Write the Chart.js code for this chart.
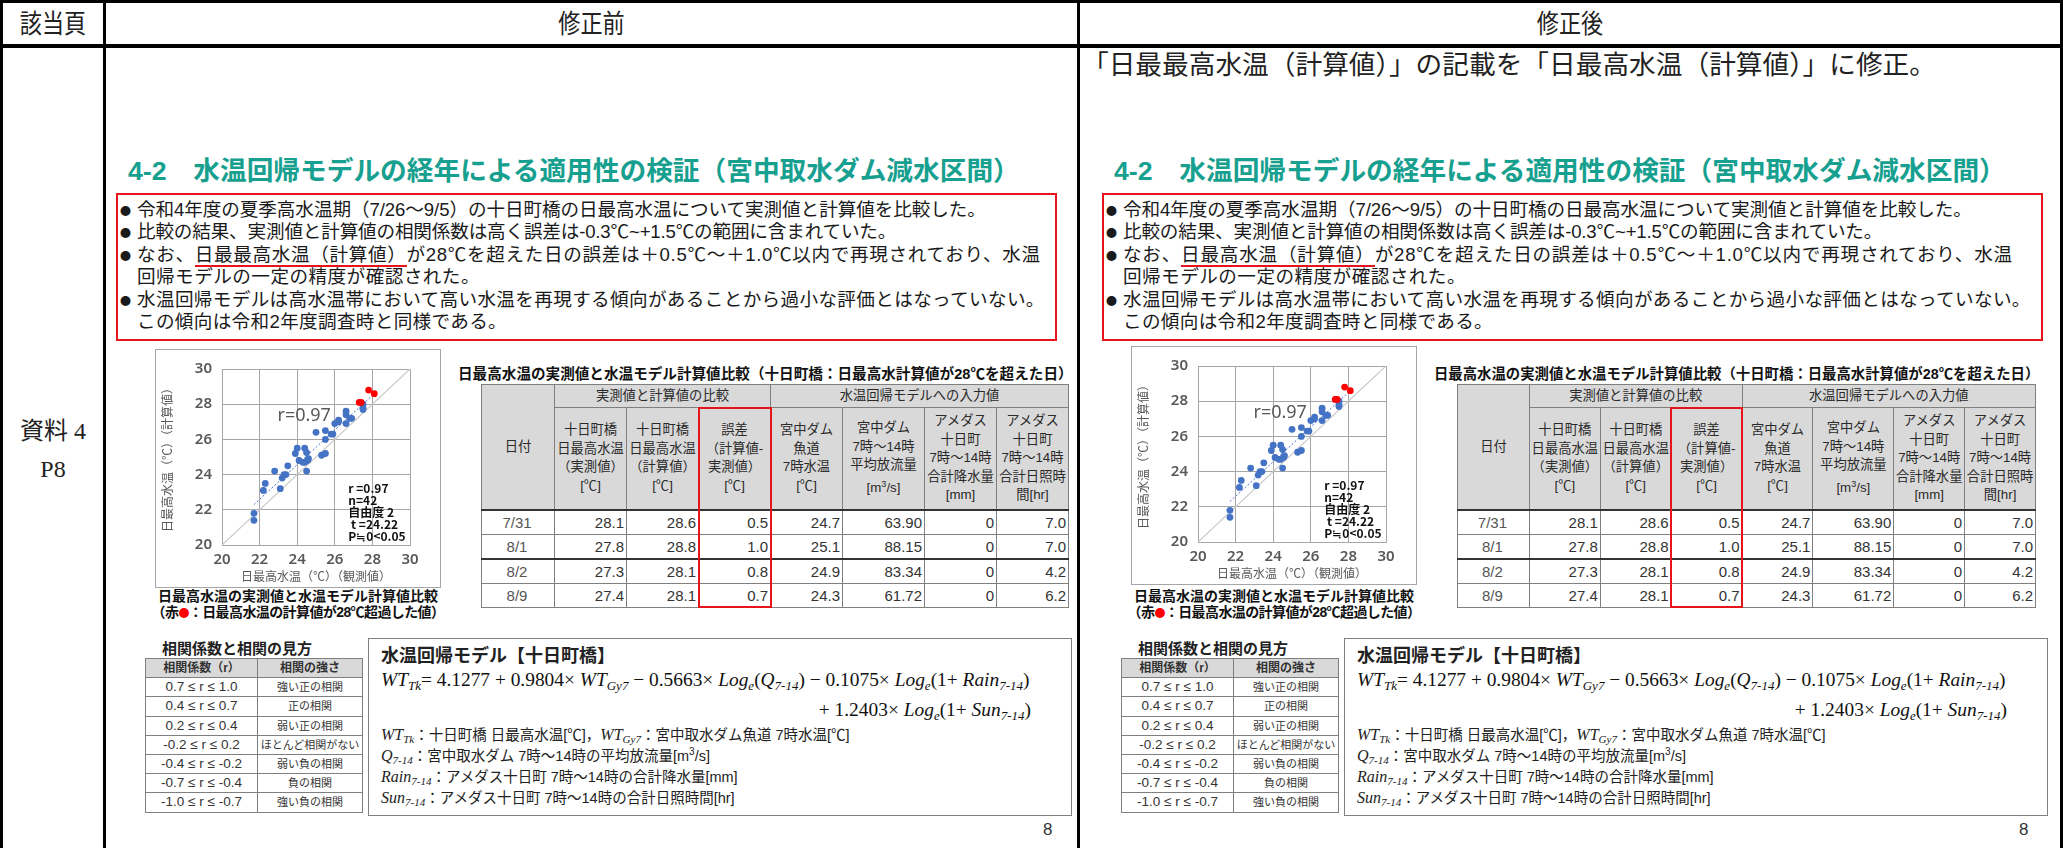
<!DOCTYPE html>
<html lang="ja">
<head>
<meta charset="utf-8">
<script src="https://cdn.jsdelivr.net/npm/chart.js@4"></script>
<style>
body { margin:0; width:2063px; height:848px; background:#fff; position:relative; overflow:hidden; font-family:"Liberation Sans", "Noto Sans CJK JP", sans-serif; color:#222; }
.abs { position:absolute; }
.line { position:absolute; background:#000; }
.hdr { position:absolute; top:4px; height:40px; line-height:40px; font-size:26px; text-align:center; transform:scaleX(0.85); }
.title { font-size:26.7px; font-weight:bold; color:#17a08f; white-space:nowrap; line-height:32px; }
.redbox { border:2px solid #e8141b; }
.bul { position:absolute; left:120px; top:199px; font-size:18.6px; line-height:22.4px; color:#1a1a1a; white-space:nowrap; }
.bul div { position:relative; padding-left:17px; }
.bul .dot { position:absolute; left:0; top:3px; font-family:"Noto Sans CJK JP", sans-serif; font-size:11px; line-height:16px; height:16px; }
.bul .ln { display:inline-block; height:22.4px; line-height:22.4px; vertical-align:top; }
.chartbox { border:1px solid #a6a6a6; background:#fff; }
.cap { font-weight:bold; font-size:14px; line-height:16px; text-align:center; color:#111; white-space:nowrap; }
.cap .red { color:#f00; font-family:"Noto Sans CJK JP", sans-serif; font-size:11px; }
table { border-collapse:collapse; table-layout:fixed; }
.t1 th { background:#d9d9d9; font-weight:normal; font-size:13.3px; line-height:18.5px; color:#2a2a2a; border:1px solid #7f7f7f; padding:0; white-space:nowrap; }
.t1 td { border:1px solid #7f7f7f; font-size:15px; color:#333; text-align:right; padding:0 2px 0 0; height:23px; }
.t1 td.d { text-align:center; color:#555; }
.t2 tr { height:19.2px; }
.t2 th { background:#d9d9d9; font-size:12px; line-height:16px; font-weight:600; color:#333; border:1px solid #7f7f7f; padding:0; }
.t2 td { border:1px solid #7f7f7f; font-size:11px; line-height:16px; color:#333; text-align:center; padding:0; }
.model { border:1px solid #808080; background:#fff; }
.eq { font-family:"Liberation Serif", serif; font-size:19.4px; color:#111; white-space:nowrap; }
.eq i { font-style:italic; }
.eq sub { font-size:13px; vertical-align:-4px; line-height:0; }
.def { font-size:14.5px; color:#222; white-space:nowrap; }
.def div { height:21px; line-height:21px; }
.def i { font-family:"Liberation Serif", serif; font-size:16px; line-height:0; }
.def sub { font-family:"Liberation Serif", serif; font-style:italic; font-size:11px; vertical-align:-3px; line-height:0; }
</style>
</head>
<body>
<div id="page"></div>
<script>
// scatter data (observed vs calculated daily max water temp)
const obsBlue = [27.5, 27.5, 27.5, 26.6, 26.6, 26.8, 26.9, 26.6, 26.2, 26.2, 26.0, 25.9, 25.8, 25.5, 25.5, 25.0,
                 24.0, 23.9, 24.4, 24.5, 24.1, 24.3, 24.4, 24.55, 24.6, 24.5, 25.3, 25.5, 23.5, 23.3, 23.4, 23.2,
                 22.8, 23.1, 22.3, 22.2, 21.7, 21.7];
const calcBlue = [28.0, 27.8, 27.7, 27.6, 27.4, 27.2, 27.2, 26.9, 27.1, 27.0, 26.9, 26.3, 26.3, 26.5, 26.0, 26.4,
                  25.5, 25.2, 25.5, 25.25, 24.8, 24.7, 24.7, 24.8, 24.9, 24.2, 25.1, 25.2, 24.5, 24.0, 24.0, 23.8,
                  24.2, 23.2, 23.5, 23.1, 21.8, 21.4];
const diagX = [20, 30];
const diagY = [20, 30];
const trendX = [21.7, 28.1];
const trendY = [22.3, 28.6];
const axisTicks = [20, 22, 24, 26, 28, 30];
const statLines = ['r =0.97', 'n=42', '自由度 2', ' t =24.22', 'P≒0<0.05'];

// days where calculated value exceeded 28℃
const dates = ['7/31', '8/1', '8/2', '8/9'];
const obsMax = [28.1, 27.8, 27.3, 27.4];
const calcMax = [28.6, 28.8, 28.1, 28.1];
const errs = [0.5, 1.0, 0.8, 0.7];
const damTemp = [24.7, 25.1, 24.9, 24.3];
const discharge = [63.90, 88.15, 83.34, 61.72];
const rain = [0, 0, 0, 0];
const sun = [7.0, 7.0, 4.2, 6.2];

const corrRanges = ['0.7 ≤ r ≤ 1.0', '0.4 ≤ r ≤ 0.7', '0.2 ≤ r ≤ 0.4', '-0.2 ≤ r ≤ 0.2', '-0.4 ≤ r ≤ -0.2', '-0.7 ≤ r ≤ -0.4', '-1.0 ≤ r ≤ -0.7'];
const corrLabels = ['強い正の相関', '正の相関', '弱い正の相関', 'ほとんど相関がない', '弱い負の相関', '負の相関', '強い負の相関'];

function tableHTML(id, k) {
    const w = [73, 72, 72, 72, 72, 82, 72, 72].map(x => Math.round(x * k * 10) / 10);
    let h = `<table class="t1" id="${id}" style="width:${w.reduce((a,b)=>a+b,0)}px">`;
    h += '<colgroup>' + w.map(x => `<col style="width:${x}px">`).join('') + '</colgroup>';
    h += '<tr style="height:23px"><th rowspan="2">日付</th><th colspan="3">実測値と計算値の比較</th><th colspan="4">水温回帰モデルへの入力値</th></tr>';
    h += '<tr style="height:102px"><th>十日町橋<br>日最高水温<br>（実測値）<br>[℃]</th><th>十日町橋<br>日最高水温<br>（計算値）<br>[℃]</th>' +
         '<th class="errh">誤差<br>（計算値-<br>実測値）<br>[℃]</th><th>宮中ダム<br>魚道<br>7時水温<br>[℃]</th>' +
         '<th>宮中ダム<br>7時～14時<br>平均放流量<br>[m<sup style="font-size:9px">3</sup>/s]</th><th>アメダス<br>十日町<br>7時～14時<br>合計降水量<br>[mm]</th>' +
         '<th>アメダス<br>十日町<br>7時～14時<br>合計日照時<br>間[hr]</th></tr>';
    dates.forEach((d, i) => {
        const top = (i === 0 || i === 2) ? 'border-top:2px solid #333;' : '';
        h += `<tr style="${top}"><td class="d">${d}</td><td>${obsMax[i].toFixed(1)}</td><td>${calcMax[i].toFixed(1)}</td>` +
             `<td class="errc">${errs[i].toFixed(1)}</td><td>${damTemp[i].toFixed(1)}</td><td>${discharge[i].toFixed(2)}</td>` +
             `<td>${rain[i]}</td><td>${sun[i].toFixed(1)}</td></tr>`;
    });
    return h + '</table>';
}

function corrHTML() {
    let h = '<table class="t2" style="width:217px"><colgroup><col style="width:112px"><col style="width:105px"></colgroup>';
    h += '<tr><th>相関係数（r）</th><th>相関の強さ</th></tr>';
    corrRanges.forEach((r, i) => { h += `<tr><td style="font-size:13.5px">${r}</td><td>${corrLabels[i]}</td></tr>`; });
    return h + '</table>';
}

function slideHTML(s) {
    return `
    <div class="abs" style="left:${s.dxTop}px;top:0">
        <div class="abs title" style="left:128px;top:155px">4-2&emsp;水温回帰モデルの経年による適用性の検証（宮中取水ダム減水区間）</div>
        <div class="abs redbox" style="left:116px;top:193px;width:937px;height:144px"></div>
        <div class="bul">
            <div><span class="dot">●</span><span class="ln" data-w="849">令和4年度の夏季高水温期（7/26～9/5）の十日町橋の日最高水温について実測値と計算値を比較した。</span></div>
            <div><span class="dot">●</span><span class="ln" data-w="759">比較の結果、実測値と計算値の相関係数は高く誤差は-0.3℃~+1.5℃の範囲に含まれていた。</span></div>
            <div><span class="dot">●</span><span class="ln" data-w="${s.w3}">なお、<span style="border-bottom:2px solid #e8141b">${s.fixText}</span>が28℃を超えた日の誤差は＋0.5℃～＋1.0℃以内で再現されており、水温</span><br><span class="ln" data-w="343">回帰モデルの一定の精度が確認された。</span></div>
            <div><span class="dot">●</span><span class="ln" data-w="908">水温回帰モデルは高水温帯において高い水温を再現する傾向があることから過小な評価とはなっていない。</span><br><span class="ln" data-w="370">この傾向は令和2年度調査時と同様である。</span></div>
        </div>
    </div>
    <div class="abs" style="left:${s.dxBottom}px;top:0">
        <div class="abs chartbox" style="left:155px;top:${349 + s.dyChart}px;width:284px;height:237px"><canvas id="${s.id}" width="284" height="237"></canvas></div>
        <div class="abs cap" style="left:140px;top:588px;width:316px">日最高水温の実測値と水温モデル計算値比較<br><span style="letter-spacing:-0.6px">（赤<span class="red">●</span>：日最高水温の計算値が28℃超過した値）</span></div>
        <div class="abs" style="left:458px;top:362px;font-size:${14.6 * s.tw}px;font-weight:bold;white-space:nowrap;color:#111">日最高水温の実測値と水温モデル計算値比較（十日町橋：日最高水計算値が28℃を超えた日）</div>
        <div class="abs" style="left:481px;top:384px">${tableHTML(s.id + 'tbl', s.tw)}</div>
        <div class="abs redbox" id="${s.id}err" style="border-width:2px"></div>
        <div class="abs" style="left:158px;top:637px;width:158px;text-align:center;font-size:15px;font-weight:bold;white-space:nowrap">相関係数と相関の見方</div>
        <div class="abs" style="left:145px;top:658px">${corrHTML()}</div>
        <div class="abs model" style="left:368px;top:638px;width:702px;height:176px">
            <div class="abs" style="left:12px;top:2px;font-size:18px;font-weight:bold;white-space:nowrap">水温回帰モデル【十日町橋】</div>
            <div class="abs eq" style="left:12px;top:30px"><i>WT</i><sub><i>Tk</i></sub>= 4.1277 + 0.9804× <i>WT</i><sub><i>Gy7</i></sub> − 0.5663× <i>Log</i><sub><i>e</i></sub>(<i>Q</i><sub><i>7-14</i></sub>) − 0.1075× <i>Log</i><sub><i>e</i></sub>(1+ <i>Rain</i><sub><i>7-14</i></sub>)</div>
            <div class="abs eq" style="right:40px;top:60px">+ 1.2403× <i>Log</i><sub><i>e</i></sub>(1+ <i>Sun</i><sub><i>7-14</i></sub>)</div>
            <div class="abs def" style="left:12px;top:86px">
                <div><i>WT</i><sub>Tk</sub>：十日町橋 日最高水温[℃]，<i>WT</i><sub>Gy7</sub>：宮中取水ダム魚道 7時水温[℃]</div>
                <div><i>Q</i><sub>7-14</sub>：宮中取水ダム 7時～14時の平均放流量[m<sup style="font-size:10px;line-height:0">3</sup>/s]</div>
                <div><i>Rain</i><sub>7-14</sub>：アメダス十日町 7時～14時の合計降水量[mm]</div>
                <div><i>Sun</i><sub>7-14</sub>：アメダス十日町 7時～14時の合計日照時間[hr]</div>
            </div>
        </div>
        <div class="abs" style="left:1043px;top:820px;font-size:17px;color:#333">8</div>
    </div>`;
}

const page = document.getElementById('page');
page.innerHTML = `
    <div class="line" style="left:0;top:0;width:2063px;height:3px"></div>
    <div class="line" style="left:0;top:44px;width:2063px;height:4px"></div>
    <div class="line" style="left:0;top:0;width:3px;height:848px"></div>
    <div class="line" style="left:103px;top:0;width:3px;height:848px"></div>
    <div class="line" style="left:1077px;top:0;width:3px;height:848px"></div>
    <div class="line" style="left:2060px;top:0;width:3px;height:848px"></div>
    <div class="hdr" style="left:3px;width:100px">該当頁</div>
    <div class="hdr" style="left:106px;width:971px">修正前</div>
    <div class="hdr" style="left:1080px;width:980px">修正後</div>
    <div class="abs" style="left:3px;top:412px;width:100px;text-align:center;font-family:'Liberation Serif','Noto Sans CJK JP',serif;font-size:24px;line-height:38px">資料 4<br>P8</div>
    <div class="abs" style="left:1082px;top:48px;font-size:26.7px;line-height:34px;white-space:nowrap">「日最最高水温（計算値）」の記載を「日最高水温（計算値）」に修正。</div>
    ${slideHTML({ dxTop: 0, dxBottom: 0, dyChart: 0, tw: 1, w3: 904, id: 'before', fixText: '日最最高水温（計算値）' })}
    ${slideHTML({ dxTop: 986, dxBottom: 976, dyChart: -3, tw: 0.985, w3: 890, id: 'after', fixText: '日最高水温（計算値）' })}
`;

// stretch bullet lines to the widths
document.querySelectorAll('.ln').forEach(el => {
    const target = +el.dataset.w;
    const n = el.textContent.length;
    const w = el.getBoundingClientRect().width;
    el.style.letterSpacing = ((target - w) / n).toFixed(2) + 'px';
});

// red frame around the error column
['before', 'after'].forEach(id => {
    const tbl = document.getElementById(id + 'tbl');
    const th = tbl.querySelector('.errh');
    const cells = tbl.querySelectorAll('.errc');
    const last = cells[cells.length - 1];
    const frame = document.getElementById(id + 'err');
    const a = th.getBoundingClientRect(), b = last.getBoundingClientRect();
    frame.style.left = (a.left - frame.parentElement.getBoundingClientRect().left - 1) + 'px';
    frame.style.top = (a.top - 1) + 'px';
    frame.style.width = (a.width - 2) + 'px';
    frame.style.height = (b.bottom - a.top - 2) + 'px';
});

const annotPlugin = {
    id: 'annot',
    afterDatasetsDraw(chart) {
        const { ctx, scales: { x, y } } = chart;
        ctx.save();
        ctx.fillStyle = '#595959';
        ctx.font = '18px "Noto Sans"';
        ctx.textBaseline = 'middle';
        ctx.fillText('r=0.97', x.getPixelForValue(22.95), y.getPixelForValue(27.36));
        ctx.fillStyle = '#111';
        ctx.font = 'bold 12px "Noto Sans CJK JP"';
        statLines.forEach((t, i) => {
            ctx.fillText(t, x.getPixelForValue(26.72), y.getPixelForValue(23.2 - i * 0.68));
        });
        ctx.restore();
    }
};

function makeScatter(id) {
    const tickFont = { family: 'Noto Sans', size: 15, weight: '600' };
    const titleFont = { family: 'Noto Sans CJK JP', size: 12 };
    const grid = { color: '#a6a6a6', drawTicks: false };
    return new Chart(document.getElementById(id), {
        type: 'scatter',
        data: {
            datasets: [
                { data: obsMax.map((v, i) => ({ x: v, y: calcMax[i] })), backgroundColor: '#ff0000', borderWidth: 0, pointRadius: 3.4, order: 0 },
                { data: obsBlue.map((v, i) => ({ x: v, y: calcBlue[i] })), backgroundColor: '#4472c4', borderWidth: 0, pointRadius: 3.4, order: 1 },
                { data: trendX.map((v, i) => ({ x: v, y: trendY[i] })), showLine: true, borderColor: '#4472c4', borderWidth: 1, borderDash: [2, 2], pointRadius: 0, order: 2 },
                { data: diagX.map((v, i) => ({ x: v, y: diagY[i] })), showLine: true, borderColor: '#c8c8c8', borderWidth: 1.2, pointRadius: 0, order: 3 }
            ]
        },
        options: {
            responsive: false,
            animation: false,
            devicePixelRatio: 1,
            layout: { padding: { top: 14, right: 30, left: 0, bottom: 0 } },
            plugins: { legend: { display: false }, tooltip: { enabled: false } },
            scales: {
                x: {
                    type: 'linear', min: axisTicks[0], max: axisTicks[axisTicks.length - 1],
                    afterBuildTicks: s => { s.ticks = axisTicks.map(v => ({ value: v })); },
                    ticks: { color: '#595959', font: tickFont, padding: 6 },
                    grid: grid, border: { color: '#a6a6a6' },
                    title: { display: true, text: '日最高水温（℃）（観測値）', color: '#595959', font: titleFont, padding: { top: 0, bottom: 3 } },
                    afterFit: s => { s.height = 42; }
                },
                y: {
                    type: 'linear', min: axisTicks[0], max: axisTicks[axisTicks.length - 1],
                    afterBuildTicks: s => { s.ticks = axisTicks.map(v => ({ value: v })); },
                    ticks: { color: '#595959', font: tickFont, padding: 10 },
                    grid: grid, border: { color: '#a6a6a6' },
                    title: { display: true, text: '日最高水温（℃）（計算値）', color: '#595959', font: titleFont, padding: { top: 4, bottom: 0 } },
                    afterFit: s => { s.width = 66; }
                }
            }
        },
        plugins: [annotPlugin]
    });
}

makeScatter('before');
makeScatter('after');
</script>
</body>
</html>
